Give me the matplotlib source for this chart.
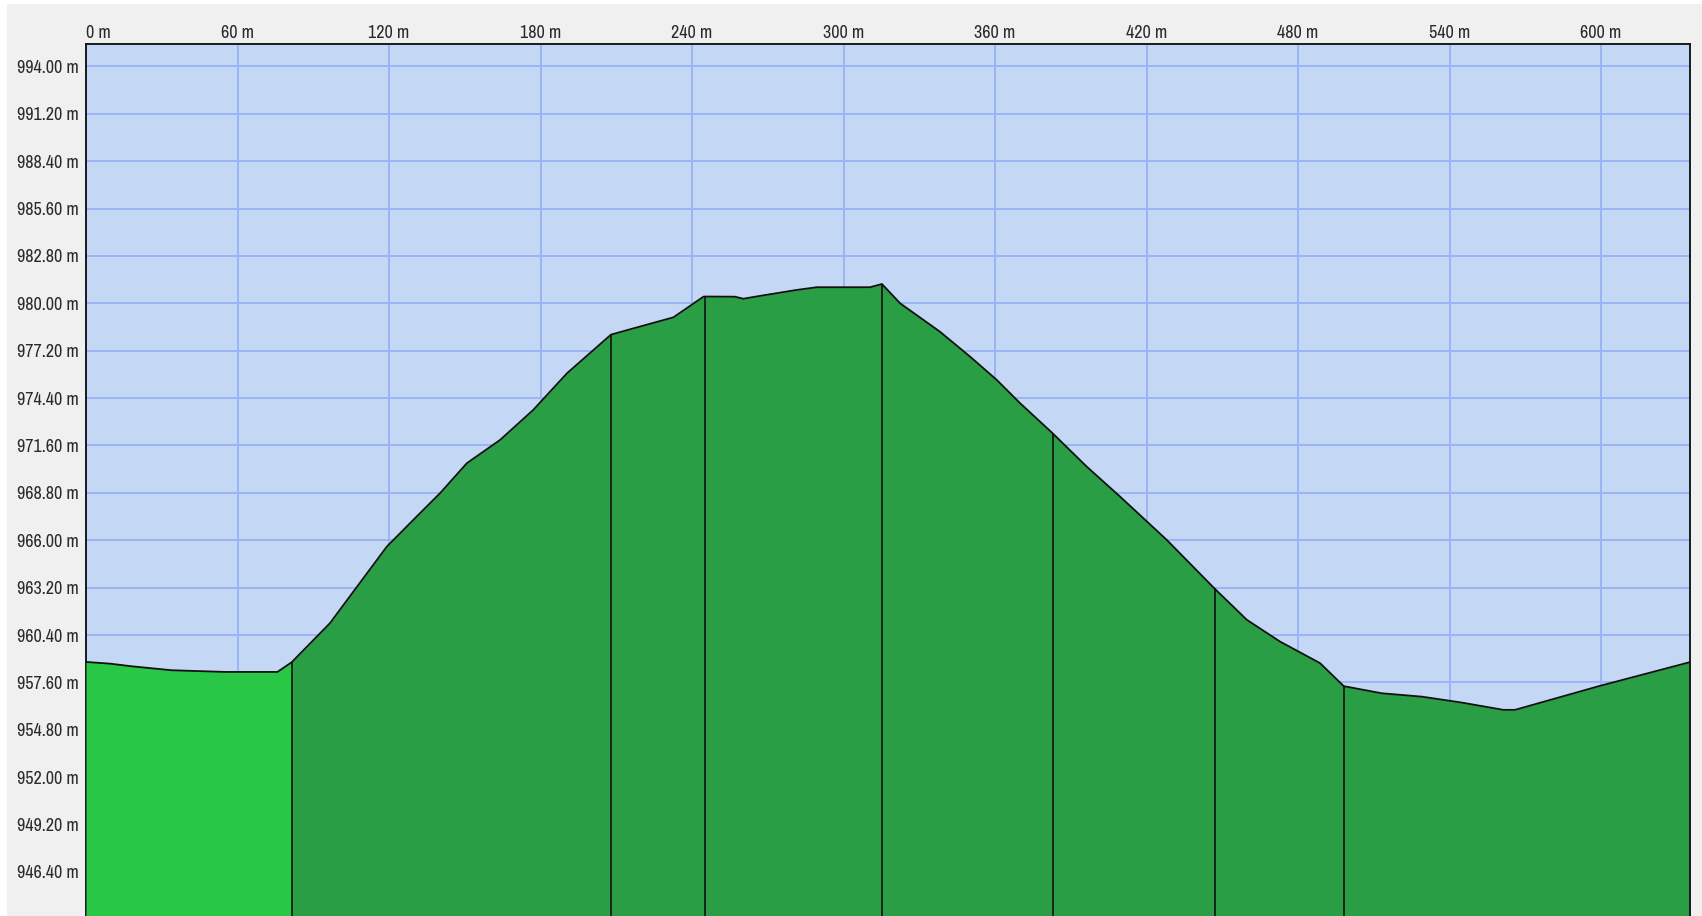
import numpy as np
import matplotlib
matplotlib.use('Agg')
import matplotlib.pyplot as plt
from matplotlib import font_manager
from matplotlib.ticker import FuncFormatter
from matplotlib.patches import Rectangle

# perfil de elevação (distância em m, altitude em m)
distancia = [0, 9.5, 17.7, 33.9, 55.3, 75.8, 81.5, 96.6, 119.1, 129.6, 140.2, 150.8,
             164.0, 177.1, 190.5, 207.9, 216.8, 232.6, 244.5, 245.3, 257.0, 260.3,
             268.2, 281.5, 289.4, 310.5, 315.2, 322.4, 338.2, 350.1, 360.7, 369.9,
             382.8, 396.3, 409.5, 428.0, 446.9, 459.7, 472.9, 488.7, 498.1, 513.1,
             529.0, 544.8, 561.3, 565.9, 599.6, 635.2]
altitude = [958.81, 958.71, 958.56, 958.32, 958.22, 958.22, 958.80, 961.10, 965.62,
            967.20, 968.78, 970.55, 971.93, 973.70, 975.87, 978.15, 978.52, 979.17,
            980.39, 980.40, 980.39, 980.27, 980.47, 980.79, 980.95, 980.95, 981.14,
            980.00, 978.32, 976.85, 975.47, 974.10, 972.32, 970.35, 968.58, 966.02,
            963.15, 961.30, 960.01, 958.74, 957.38, 956.96, 956.76, 956.41, 955.98,
            955.98, 957.40, 958.80]

# limites dos trechos
trechos = [81.5, 207.9, 245.3, 315.2, 382.8, 446.9, 498.1]

x_ticks = [0, 60, 120, 180, 240, 300, 360, 420, 480, 540, 600]
y_ticks = [946.40, 949.20, 952.00, 954.80, 957.60, 960.40, 963.20, 966.00,
           968.80, 971.60, 974.40, 977.20, 980.00, 982.80, 985.60, 988.40,
           991.20, 994.00]

COR_CEU = '#c4d8f6'
COR_GRADE = '#9ab4f3'
COR_VERDE_CLARO = '#28c846'
COR_VERDE = '#2a9e45'
COR_FUNDO = '#f0f0f0'

# procura uma fonte estreita (tipo Arial Narrow) entre as instaladas
fonte = None
for f in font_manager.fontManager.ttflist:
    nome = f.name.lower()
    estreita = ('narrow' in nome or 'condensed' in nome
                or f.stretch in ('condensed', 'semi-condensed', 'extra-condensed'))
    if estreita and f.style == 'normal' and f.weight in (400, 'normal', 'regular'):
        if fonte is None or 'narrow' in nome or 'condensed' in f.fname.lower():
            fonte = f
            if 'narrow' in nome:
                break

if fonte is not None:
    prop = font_manager.FontProperties(fname=fonte.fname, size=13)
else:
    prop = font_manager.FontProperties(family='DejaVu Sans', size=10)

W, H = 1702, 916
fig = plt.figure(figsize=(W / 100, H / 100), dpi=100)
fig.patch.set_facecolor('white')
# faixa cinza (deixa borda branca à esquerda e no topo)
fig.patches.append(Rectangle((7 / W, 0), 1, 1 - 4 / H, transform=fig.transFigure,
                             facecolor=COR_FUNDO, edgecolor='none', zorder=-10))

ax = fig.add_axes([86 / W, 0, (1690 - 86) / W, 1 - 44 / H])
ax.set_facecolor(COR_CEU)

y_min, y_max = 943.8, 995.32
ax.set_xlim(0, 635.2)
ax.set_ylim(y_min, y_max)

d = np.array(distancia)
h = np.array(altitude)

ax.fill_between(d, h, y_min, color=COR_VERDE, linewidth=0, zorder=2)
mask = d <= trechos[0]
ax.fill_between(d[mask], h[mask], y_min, color=COR_VERDE_CLARO, linewidth=0, zorder=3)
ax.plot(d, h, color='#111111', lw=1.3, zorder=5)

h_trechos = np.interp(trechos, d, h)
ax.vlines(trechos, y_min, h_trechos, color='#111111', lw=1.2, zorder=4)

# grade
ax.set_xticks(x_ticks)
ax.set_yticks(y_ticks)
ax.grid(True, color=COR_GRADE, lw=1.4, zorder=1)
ax.set_axisbelow(True)

ax.xaxis.tick_top()
ax.xaxis.set_major_formatter(FuncFormatter(lambda v, p: f'{v:.0f} m'))
ax.yaxis.set_major_formatter(FuncFormatter(lambda v, p: f'{v:.2f} m'))
ax.tick_params(axis='both', length=0, colors='#2a2a2a')
ax.tick_params(axis='x', pad=2)
ax.tick_params(axis='y', pad=5)
for lbl in ax.get_xticklabels() + ax.get_yticklabels():
    lbl.set_fontproperties(prop)
ax.get_xticklabels()[0].set_horizontalalignment('left')

for lado in ['left', 'top', 'right']:
    ax.spines[lado].set_color('#1a1a1a')
    ax.spines[lado].set_linewidth(1.4)
ax.spines['bottom'].set_visible(False)

fig.savefig('out.png', dpi=100, facecolor=fig.get_facecolor())
